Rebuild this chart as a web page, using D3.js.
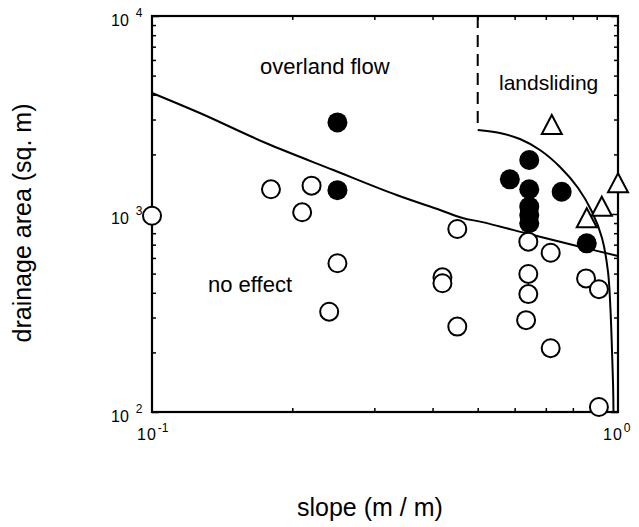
<!DOCTYPE html>
<html>
<head>
<meta charset="utf-8">
<script src="https://cdn.jsdelivr.net/npm/d3@7"></script>
<style>
  body { margin: 0; background: #fff; }
  svg text { font-family: "Liberation Sans", Arial, Helvetica, sans-serif; fill: #000; }
</style>
</head>
<body>
<div id="chart"></div>
<script>
// open circles = no effect
const openSlope = [0.1, 0.18, 0.22, 0.21, 0.25, 0.24, 0.452, 0.42, 0.42, 0.452, 0.642, 0.642, 0.642, 0.635, 0.717, 0.717, 0.854, 0.91, 0.91];
const openArea  = [980, 1333, 1390, 1020, 564, 321, 840, 479, 447, 270, 725, 498, 394, 291, 637, 210, 473, 417, 106];

// filled circles = overland flow
const fillSlope = [0.25, 0.25, 0.645, 0.586, 0.645, 0.757, 0.645, 0.645, 0.645, 0.857];
const fillArea  = [2900, 1320, 1874, 1497, 1333, 1296, 1089, 989, 898, 711];

// triangles = landsliding
const triSlope = [0.721, 1.0, 0.923, 0.857];
const triArea  = [2815, 1429, 1089, 952];

// overland flow threshold
const flowSlope = [0.1, 0.127, 0.176, 0.245, 0.335, 0.415, 0.466, 0.506, 0.657, 0.829, 1.0];
const flowArea  = [4085, 3226, 2276, 1668, 1247, 1048, 951, 915, 783, 683, 614];

// landslide threshold
const slideSlope = [0.5, 0.558, 0.616, 0.68, 0.751, 0.821, 0.88, 0.924, 0.952, 0.9636, 0.9707, 0.976, 0.978];
const slideArea  = [2656, 2566, 2392, 2105, 1728, 1353, 1023, 756, 509, 327, 206, 137, 100];

const xTickExp = [-1, 0];
const yTickExp = [2, 3, 4];
const regionNames = ['overland flow', 'landsliding', 'no effect'];

const width = 639, height = 527;
const margin = { top: 16, right: 21, bottom: 115, left: 152 };
const innerWidth = width - margin.left - margin.right;
const innerHeight = height - margin.top - margin.bottom;

const svg = d3.select('#chart').append('svg')
  .attr('width', width)
  .attr('height', height);

const g = svg.append('g')
  .attr('transform', `translate(${margin.left},${margin.top})`);

const x = d3.scaleLog().domain([0.1, 1]).range([0, innerWidth]);
const y = d3.scaleLog().domain([100, 10000]).range([innerHeight, 0]);

// ticks, all pointing inward
const xMinor = x.ticks().filter(v => Math.abs(Math.log10(v) % 1) > 1e-6);
const yMinor = y.ticks().filter(v => Math.abs(Math.log10(v) % 1) > 1e-6);
const yMajor = yTickExp.map(e => Math.pow(10, e));

function tickAxis(axisFn, scale, values, size, transform) {
  const a = g.append('g')
    .attr('transform', transform || null)
    .call(axisFn(scale).tickValues(values).tickSize(size).tickFormat(''));
  a.select('.domain').remove();
  a.selectAll('text').remove();
  a.selectAll('line').attr('stroke', '#000').attr('stroke-width', 1.5);
}
tickAxis(d3.axisBottom, x, xMinor, -4, `translate(0,${innerHeight})`);
tickAxis(d3.axisTop, x, xMinor, -4);
tickAxis(d3.axisLeft, y, yMinor, -4);
tickAxis(d3.axisRight, y, yMinor, -4, `translate(${innerWidth},0)`);
tickAxis(d3.axisLeft, y, yMajor, -7);
tickAxis(d3.axisRight, y, yMajor, -7, `translate(${innerWidth},0)`);

// frame
g.append('rect')
  .attr('width', innerWidth)
  .attr('height', innerHeight)
  .attr('fill', 'none')
  .attr('stroke', '#000')
  .attr('stroke-width', 2.2);

// threshold curves
const line = d3.line()
  .x(d => x(d[0]))
  .y(d => y(d[1]))
  .curve(d3.curveCatmullRom.alpha(0.5));

g.append('path')
  .datum(flowSlope.map((s, i) => [s, flowArea[i]]))
  .attr('fill', 'none')
  .attr('stroke', '#000')
  .attr('stroke-width', 2)
  .attr('d', line);

g.append('path')
  .datum(slideSlope.map((s, i) => [s, slideArea[i]]))
  .attr('fill', 'none')
  .attr('stroke', '#000')
  .attr('stroke-width', 2)
  .attr('d', line);

// dashed boundary above landslide curve
g.append('line')
  .attr('x1', x(slideSlope[0])).attr('x2', x(slideSlope[0]))
  .attr('y1', y(10000)).attr('y2', y(slideArea[0]))
  .attr('stroke', '#000')
  .attr('stroke-width', 2)
  .attr('stroke-dasharray', '12,7');

// markers
g.selectAll('.open')
  .data(openSlope.map((s, i) => [s, openArea[i]]))
  .join('circle')
  .attr('class', 'open')
  .attr('cx', d => x(d[0]))
  .attr('cy', d => y(d[1]))
  .attr('r', 9)
  .attr('fill', '#fff')
  .attr('stroke', '#000')
  .attr('stroke-width', 2);

g.selectAll('.filled')
  .data(fillSlope.map((s, i) => [s, fillArea[i]]))
  .join('circle')
  .attr('class', 'filled')
  .attr('cx', d => x(d[0]))
  .attr('cy', d => y(d[1]))
  .attr('r', 10)
  .attr('fill', '#000');

g.selectAll('.tri')
  .data(triSlope.map((s, i) => [s, triArea[i]]))
  .join('path')
  .attr('class', 'tri')
  .attr('transform', d => `translate(${x(d[0])},${y(d[1])})`)
  .attr('d', 'M0,-10L10,9L-10,9Z')
  .attr('fill', '#fff')
  .attr('stroke', '#000')
  .attr('stroke-width', 2)
  .attr('stroke-linejoin', 'miter');

// region labels
g.append('text').attr('x', 260 - margin.left).attr('y', 74 - margin.top)
  .attr('font-size', '22px').text(regionNames[0]);
g.append('text').attr('x', 499 - margin.left).attr('y', 90 - margin.top)
  .attr('font-size', '21px').text(regionNames[1]);
g.append('text').attr('x', 208 - margin.left).attr('y', 292 - margin.top)
  .attr('font-size', '22px').text(regionNames[2]);

// tick labels 10^n
yTickExp.forEach(e => {
  const py = y(Math.pow(10, e));
  const t = g.append('text').attr('x', -41).attr('y', py + 10).attr('font-size', '16px');
  t.append('tspan').text('10');
  t.append('tspan').attr('dx', 7).attr('dy', -9).attr('font-size', '12px').text(e);
});
xTickExp.forEach(e => {
  const px = x(Math.pow(10, e));
  const t = g.append('text').attr('x', px - 15).attr('y', innerHeight + 28).attr('font-size', '16px')
    .attr('letter-spacing', '1px');
  t.append('tspan').text('10');
  t.append('tspan').attr('dx', 1).attr('dy', -8).attr('font-size', '12px')
    .attr('letter-spacing', '0px').text(e < 0 ? '-' + Math.abs(e) : e);
});

// axis titles
svg.append('text')
  .attr('x', 297).attr('y', 516)
  .attr('font-size', '25px')
  .text('slope (m / m)');

svg.append('text')
  .attr('transform', 'translate(31,223) rotate(-90)')
  .attr('text-anchor', 'middle')
  .attr('font-size', '25px')
  .text('drainage area (sq. m)');
</script>
</body>
</html>
